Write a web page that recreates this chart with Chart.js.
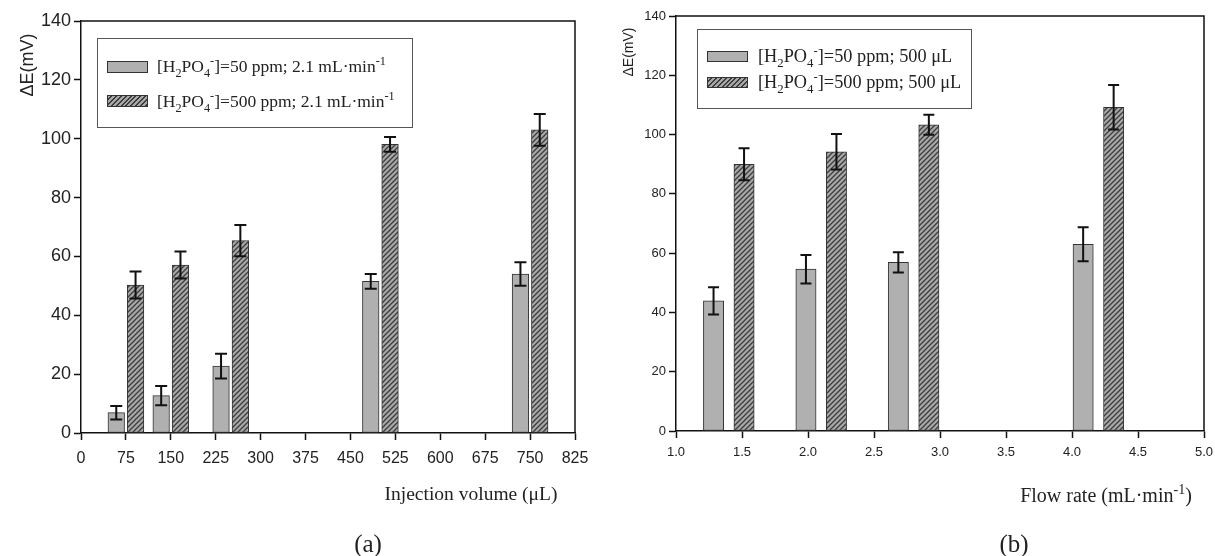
<!DOCTYPE html>
<html>
<head>
<meta charset="utf-8">
<script src="https://cdn.jsdelivr.net/npm/chart.js@4.4.0/dist/chart.umd.min.js"></script>
<style>
  body { margin: 0; background: #fff; width: 1215px; height: 556px; overflow: hidden; position: relative; }
  canvas { position: absolute; top: 0; }
  .txt { position: absolute; white-space: nowrap; line-height: 1; color: #222; font-family: 'Liberation Serif', 'Times New Roman', serif; transform: translate(-50%, -50%); }
  .ytitle { font-family: 'Liberation Sans', Arial, sans-serif; font-size: 18px; transform: translate(-50%, -50%) rotate(-90deg); }
  .legend { position: absolute; border: 1px solid #555; background: #fff; }
  .sw { position: absolute; border: 1px solid #333; box-sizing: border-box; }
  .gray { background: #b0b0b0; }
  .hatch { background: repeating-linear-gradient(135deg, #a8a8a8 0 2px, #3c3c3c 2px 3.4px); }
  .lt { position: absolute; white-space: nowrap; line-height: 1; color: #222; font-family: 'Liberation Serif', 'Times New Roman', serif; font-size: 17.5px; transform: translateY(-50%); }
  .lt sub, .lt sup { font-size: 70%; line-height: 0; }
</style>
</head>
<body>
<canvas id="chartA" width="600" height="556" style="left:0"></canvas>
<canvas id="chartB" width="610" height="556" style="left:605px"></canvas>

<div class="txt ytitle" style="left:27px;top:65px">ΔE(mV)</div>
<div class="txt ytitle" style="left:628px;top:52px;font-size:14px">ΔE(mV)</div>

<div class="legend" style="left:97px;top:38px;width:314px;height:88px"></div>
<div class="sw gray" style="left:107px;top:61px;width:41px;height:12px"></div>
<div class="sw hatch" style="left:107px;top:95px;width:41px;height:12px"></div>
<div class="lt" style="left:157px;top:67px">[H<sub>2</sub>PO<sub>4</sub><sup>-</sup>]=50 ppm; 2.1 mL·min<sup>-1</sup></div>
<div class="lt" style="left:157px;top:102px">[H<sub>2</sub>PO<sub>4</sub><sup>-</sup>]=500 ppm; 2.1 mL·min<sup>-1</sup></div>

<div class="legend" style="left:697px;top:29px;width:273px;height:78px"></div>
<div class="sw gray" style="left:707px;top:51px;width:41px;height:11px"></div>
<div class="sw hatch" style="left:707px;top:77px;width:41px;height:11px"></div>
<div class="lt" style="left:758px;top:56px;font-size:18.3px">[H<sub>2</sub>PO<sub>4</sub><sup>-</sup>]=50 ppm; 500 μL</div>
<div class="lt" style="left:758px;top:82px;font-size:18.3px">[H<sub>2</sub>PO<sub>4</sub><sup>-</sup>]=500 ppm; 500 μL</div>

<div class="txt" style="left:471px;top:494px;font-size:19.5px">Injection volume (μL)</div>
<div class="txt" style="left:1106px;top:494px;font-size:20px">Flow rate (mL·min<sup style="font-size:70%">-1</sup>)</div>
<div class="txt" style="left:368px;top:543px;font-size:25px">(a)</div>
<div class="txt" style="left:1014px;top:543px;font-size:25px">(b)</div>

<script>
// (a) injection volume series
var volumes = [75, 150, 250, 500, 750];
var dE50_vol = [6.9, 12.7, 22.7, 51.5, 54.0];
var err50_vol = [2.3, 3.3, 4.2, 2.5, 4.0];
var dE500_vol = [50.3, 57.1, 65.4, 98.1, 103.0];
var err500_vol = [4.6, 4.6, 5.3, 2.5, 5.4];

// (b) flow rate series
var flowRates = [1.4, 2.1, 2.8, 4.2];
var dE50_flow = [43.9, 54.6, 56.9, 63.0];
var err50_flow = [4.6, 4.8, 3.4, 5.7];
var dE500_flow = [90.0, 94.2, 103.3, 109.2];
var err500_flow = [5.4, 6.0, 3.4, 7.5];

var yTicks = [0, 20, 40, 60, 80, 100, 120, 140];

function toPoints(xs, ys) {
  return xs.map(function (x, i) { return { x: x, y: ys[i] }; });
}

// diagonal hatch fill
var pc = document.createElement('canvas');
pc.width = 5; pc.height = 5;
var pctx = pc.getContext('2d');
pctx.fillStyle = '#a8a8a8';
pctx.fillRect(0, 0, 5, 5);
pctx.strokeStyle = '#3c3c3c';
pctx.lineWidth = 1.3;
pctx.beginPath();
pctx.moveTo(0, 5); pctx.lineTo(5, 0);
pctx.moveTo(-1, 1); pctx.lineTo(1, -1);
pctx.moveTo(4, 6); pctx.lineTo(6, 4);
pctx.stroke();
var hatch = pctx.createPattern(pc, 'repeat');

var errorBars = {
  id: 'errorBars',
  afterDatasetsDraw: function (chart) {
    var ctx = chart.ctx, ys = chart.scales.y;
    var cap = chart.options.plugins.errorBars.cap;
    ctx.save();
    ctx.strokeStyle = '#111';
    ctx.lineWidth = 2;
    chart.data.datasets.forEach(function (ds, i) {
      chart.getDatasetMeta(i).data.forEach(function (bar, j) {
        var v = ds.data[j].y, e = ds.errors[j];
        var t = ys.getPixelForValue(v + e), b = ys.getPixelForValue(v - e);
        ctx.beginPath();
        ctx.moveTo(bar.x, t); ctx.lineTo(bar.x, b);
        ctx.moveTo(bar.x - cap, t); ctx.lineTo(bar.x + cap, t);
        ctx.moveTo(bar.x - cap, b); ctx.lineTo(bar.x + cap, b);
        ctx.stroke();
      });
    });
    ctx.restore();
  }
};

var frame = {
  id: 'frame',
  afterDraw: function (chart) {
    var a = chart.chartArea, ctx = chart.ctx;
    ctx.save();
    ctx.strokeStyle = '#111';
    ctx.lineWidth = 1.5;
    ctx.beginPath();
    ctx.moveTo(a.left, a.top); ctx.lineTo(a.right, a.top); ctx.lineTo(a.right, a.bottom);
    ctx.stroke();
    ctx.restore();
  }
};

function makeChart(id, xs, s50, e50, s500, e500, opt) {
  return new Chart(document.getElementById(id), {
    type: 'bar',
    data: {
      datasets: [{
        data: toPoints(xs, s50), errors: e50,
        backgroundColor: '#b0b0b0', borderColor: '#333', borderWidth: 1, borderSkipped: false
      }, {
        data: toPoints(xs, s500), errors: e500,
        backgroundColor: hatch, borderColor: '#333', borderWidth: 1, borderSkipped: false
      }]
    },
    options: {
      responsive: false,
      animation: false,
      barThickness: opt.slot,
      maxBarThickness: opt.bar,
      layout: { padding: opt.padding },
      plugins: { legend: { display: false }, tooltip: { enabled: false }, errorBars: { cap: opt.cap } },
      scales: {
        x: {
          type: 'linear', min: opt.xMin, max: opt.xMax, offset: false,
          ticks: {
            stepSize: opt.xStep, autoSkip: false, maxRotation: 0, color: '#222', padding: opt.xPad,
            font: { family: 'Liberation Sans', size: opt.xFont },
            callback: opt.xFmt
          },
          grid: { drawOnChartArea: false, offset: false, tickLength: 7, tickColor: '#111', tickWidth: 1.5 },
          border: { color: '#111', width: 1.5 },
          afterFit: function (s) { s.height = opt.xHeight; s.paddingLeft = 0; s.paddingRight = 0; }
        },
        y: {
          min: 0, max: 140,
          afterBuildTicks: function (s) { s.ticks = yTicks.map(function (v) { return { value: v }; }); },
          ticks: { color: '#222', padding: 3, font: { family: 'Liberation Sans', size: opt.yFont } },
          grid: { drawOnChartArea: false, tickLength: 7, tickColor: '#111', tickWidth: 1.5 },
          border: { color: '#111', width: 1.5 },
          afterFit: function (s) { s.width = opt.yWidth; s.paddingTop = 0; s.paddingBottom = 0; }
        }
      }
    },
    plugins: [errorBars, frame]
  });
}

makeChart('chartA', volumes, dE50_vol, err50_vol, dE500_vol, err500_vol, {
  xMin: 0, xMax: 825, xStep: 75, xFmt: function (v) { return v; },
  slot: 19.3, bar: 16.6, cap: 6,
  padding: { left: 0, top: 21, right: 25, bottom: 0 },
  yWidth: 81, xHeight: 123, xFont: 16, yFont: 18, xPad: 9
});

makeChart('chartB', flowRates, dE50_flow, err50_flow, dE500_flow, err500_flow, {
  xMin: 1, xMax: 5, xStep: 0.5, xFmt: function (v) { return v.toFixed(1); },
  slot: 30.5, bar: 20.3, cap: 5.5,
  padding: { left: 0, top: 16, right: 11, bottom: 0 },
  yWidth: 71, xHeight: 125, xFont: 13, yFont: 13, xPad: 7
});
</script>
</body>
</html>
